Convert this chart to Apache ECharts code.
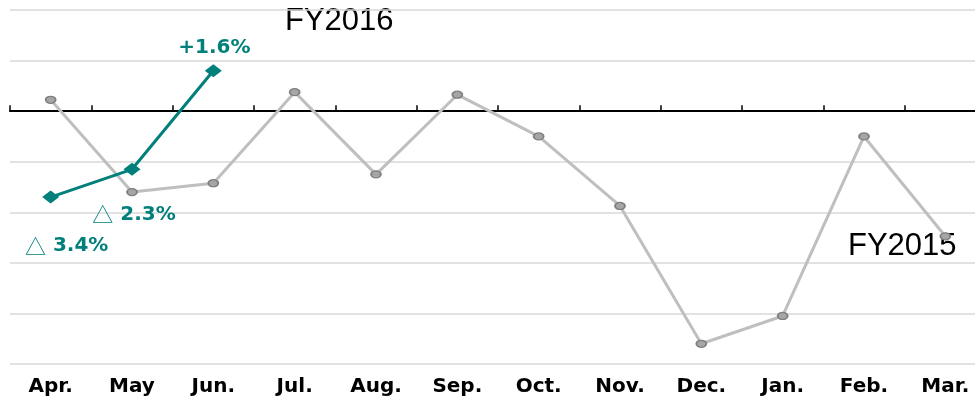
<!DOCTYPE html>
<html>
<head>
<meta charset="utf-8">
<script src="https://cdn.jsdelivr.net/npm/echarts@6/dist/echarts.min.js"></script>
<style>
html,body{margin:0;padding:0;background:#fff;overflow:hidden;}
#chart{width:986px;height:403px;}
</style>
</head>
<body>
<div id="chart"></div>
<script>
var months = ['Apr.', 'May', 'Jun.', 'Jul.', 'Aug.', 'Sep.', 'Oct.', 'Nov.', 'Dec.', 'Jan.', 'Feb.', 'Mar.'];
var fy2015 = [0.45, -3.2, -2.85, 0.75, -2.5, 0.65, -1.0, -3.75, -9.2, -8.1, -1.0, -4.95];
var fy2016 = [-3.4, -2.3, 1.6];
var fy2016Labels = ['△ 3.4%', '△ 2.3%', '+1.6%'];
var teal = '#007f7b';

var chart = echarts.init(document.getElementById('chart'));

// 前年度ラインの下にラベル位置をずらす
var labelOffsets = [[16, 49], [2, 45], [1, -23]];

chart.setOption({
  animation: false,
  grid: { left: 10, right: 0, top: 10, bottom: 39 },
  xAxis: [{
    type: 'category',
    data: months,
    boundaryGap: true,
    axisLine: { onZero: true, lineStyle: { color: '#000', width: 2 } },
    axisTick: { show: true, inside: true, length: 6, lineStyle: { color: '#000', width: 1.5 } },
    axisLabel: { show: false },
    splitLine: { show: false }
  }, {
    type: 'category',
    data: months,
    position: 'bottom',
    boundaryGap: true,
    axisLine: { show: false, onZero: false },
    axisTick: { show: false },
    axisLabel: {
      margin: 13,
      color: '#000',
      fontSize: 20,
      fontWeight: 'bold',
      fontFamily: 'DejaVu Sans'
    }
  }],
  yAxis: {
    type: 'value',
    min: -10,
    max: 4,
    interval: 2,
    axisLine: { show: false },
    axisTick: { show: false },
    axisLabel: { show: false },
    splitLine: { lineStyle: { color: '#d9d9d9', width: 1.5 } }
  },
  series: [{
    name: 'FY2015',
    type: 'line',
    data: fy2015,
    lineStyle: { color: '#bfbfbf', width: 3 },
    symbol: 'circle',
    symbolSize: [10, 7],
    itemStyle: { color: '#a6a6a6', borderColor: '#7f7f7f', borderWidth: 1.5 },
    z: 2
  }, {
    name: 'FY2016',
    type: 'line',
    data: fy2016.map(function (v, i) {
      return {
        value: v,
        label: {
          show: true,
          formatter: fy2016Labels[i].replace('△', '{t|△}'),
          offset: labelOffsets[i]
        }
      };
    }),
    lineStyle: { color: teal, width: 3 },
    symbol: 'diamond',
    symbolSize: [17, 13],
    itemStyle: { color: teal },
    label: {
      position: 'inside',
      color: teal,
      fontSize: 20,
      fontWeight: 'bold',
      fontFamily: 'DejaVu Sans',
      rich: {
        t: { color: teal, fontSize: 21, fontWeight: 'normal', fontFamily: '"Noto Sans CJK JP"' }
      }
    },
    z: 3
  }],
  graphic: [{
    type: 'text',
    left: 285,
    top: 6,
    style: { text: 'FY2016', fill: '#000', font: '31px "Liberation Sans"' }
  }, {
    type: 'text',
    left: 848,
    top: 231,
    style: { text: 'FY2015', fill: '#000', font: '31px "Liberation Sans"' }
  }]
});
</script>
</body>
</html>
